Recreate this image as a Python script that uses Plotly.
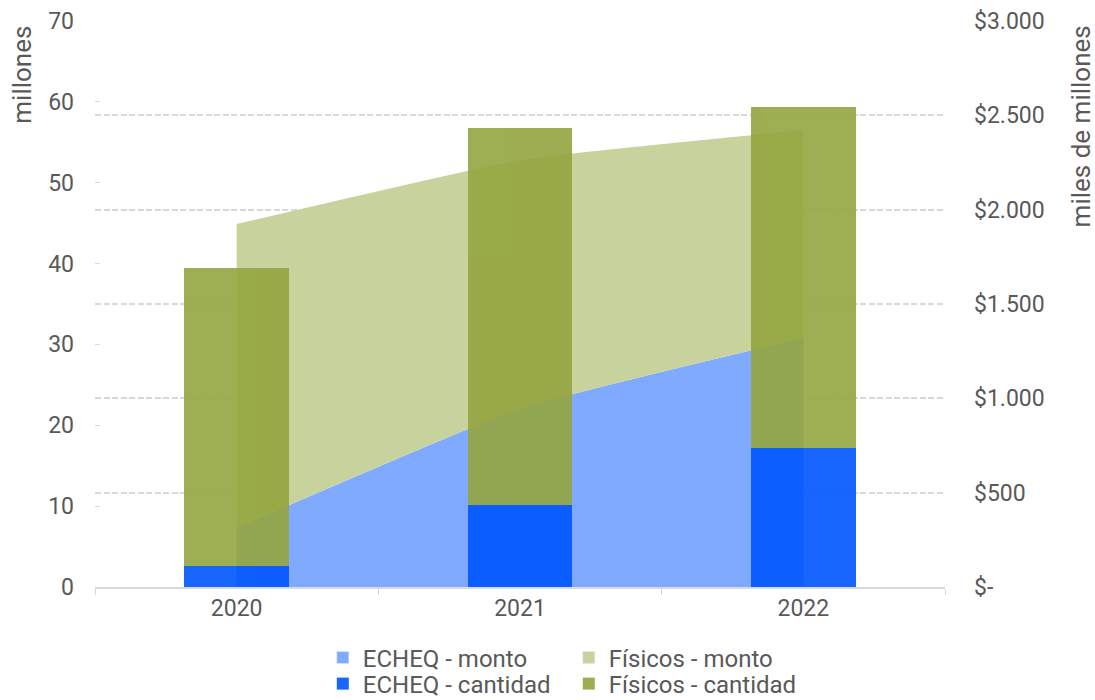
import plotly.graph_objects as go

years = ["2020", "2021", "2022"]
echeq_monto = [313, 945, 1320]
fisicos_monto = [1611, 1318, 1102]
echeq_cant = [2.6, 10.2, 17.2]
fisicos_cant = [36.8, 46.6, 42.2]

right_tickvals = [0, 500, 1000, 1500, 2000, 2500, 3000]
right_ticktext = ["$-", "$500", "$1.000", "$1.500", "$2.000", "$2.500", "$3.000"]
left_tickvals = [0, 10, 20, 30, 40, 50, 60, 70]

FONT = "Roboto"
TXT = "#595959"
GRID = "#d9d9d9"
C_EM = "rgb(128,170,255)"
C_FM = "rgb(200,210,157)"

fig = go.Figure()
fig.add_trace(go.Scatter(x=years, y=echeq_monto, name="ECHEQ - monto", stackgroup="m",
                         mode="none", fillcolor=C_EM, line=dict(shape="spline", smoothing=0.4),
                         yaxis="y", showlegend=False))
fig.add_trace(go.Scatter(x=years, y=fisicos_monto, name="Físicos - monto", stackgroup="m",
                         mode="none", fillcolor=C_FM, line=dict(shape="spline", smoothing=0.4),
                         yaxis="y", showlegend=False))
# legend swatches for the areas
fig.add_trace(go.Bar(x=years, y=[None, None, None], name="ECHEQ - monto",
                     marker=dict(color=C_EM), yaxis="y2", legend="legend"))
fig.add_trace(go.Bar(x=years, y=[None, None, None], name="Físicos - monto",
                     marker=dict(color=C_FM), yaxis="y2", legend="legend"))
fig.add_trace(go.Bar(x=years, y=echeq_cant, name="ECHEQ - cantidad", width=0.37,
                     marker=dict(color="rgb(0,85,255)", line=dict(width=0)), opacity=0.9,
                     yaxis="y2", legend="legend2"))
fig.add_trace(go.Bar(x=years, y=fisicos_cant, name="Físicos - cantidad", width=0.37,
                     marker=dict(color="rgb(148,165,63)", line=dict(width=0)), opacity=0.9,
                     yaxis="y2", legend="legend2"))

legend_common = dict(orientation="h", xanchor="left", x=0.268, yref="container", yanchor="middle",
                     font=dict(family=FONT, size=24, color=TXT), entrywidth=201,
                     entrywidthmode="pixels", bgcolor="rgba(0,0,0,0)", itemclick=False,
                     traceorder="normal")

fig.update_layout(
    width=1095, height=700,
    margin=dict(l=95, r=150, t=21, b=113, autoexpand=False),
    paper_bgcolor="white", plot_bgcolor="white",
    font=dict(family=FONT, size=23, color=TXT),
    barmode="stack",
    xaxis=dict(type="category", range=[-0.5, 2.5], tickson="boundaries", ticks="outside",
               ticklen=6, tickcolor=GRID, showline=True, linecolor=GRID, linewidth=1.5,
               showgrid=False, tickfont=dict(size=23, color=TXT), automargin=False),
    yaxis=dict(side="right", range=[0, 3000], tickvals=right_tickvals, ticktext=right_ticktext,
               showgrid=True, gridcolor=GRID, griddash="6px,2.5px", gridwidth=1.5, zeroline=False,
               ticks="", ticklabelstandoff=28, tickfont=dict(size=23, color=TXT), automargin=False),
    yaxis2=dict(side="left", overlaying="y", range=[0, 70], tickvals=left_tickvals,
                showgrid=False, zeroline=False, ticks="inside", ticklen=5, tickcolor=GRID,
                ticklabelstandoff=20, tickfont=dict(size=23, color=TXT), automargin=False),
    legend=dict(y=1 - 658 / 700, **legend_common),
    legend2=dict(y=1 - 684 / 700, **legend_common),
    annotations=[
        dict(text="millones", textangle=-90, xref="paper", yref="paper", x=-0.106, y=0.995,
             xanchor="left", yanchor="top", showarrow=False, font=dict(size=26, color=TXT)),
        dict(text="miles de millones", textangle=-90, xref="paper", yref="paper", x=1.1395, y=0.995,
             xanchor="left", yanchor="top", showarrow=False, font=dict(size=26, color=TXT)),
    ],
)

fig.write_html("out.html")
